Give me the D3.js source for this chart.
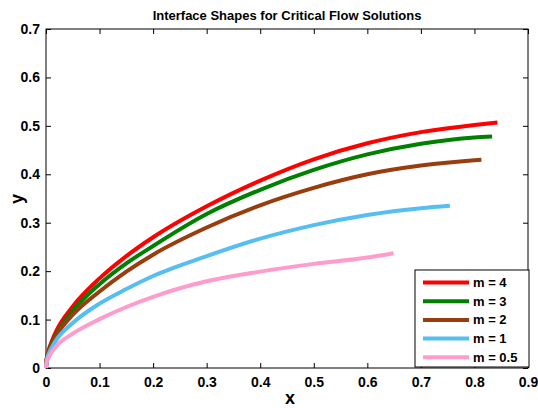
<!DOCTYPE html>
<html>
<head>
<meta charset="utf-8">
<script src="https://cdn.jsdelivr.net/npm/d3@7"></script>
<style>
  body { margin: 0; background: #fff; }
  text { font-family: "Liberation Sans", Arial, sans-serif; font-weight: bold; fill: #000; }
</style>
</head>
<body>
<section></section>
<script>
// values
var seriesNames = ["m = 4", "m = 3", "m = 2", "m = 1", "m = 0.5"];
var seriesColors = ["#ff0000", "#008000", "#993d0f", "#56bef0", "#ff9ccc"];

var redX   = [0, 0.001, 0.005, 0.01, 0.02, 0.05, 0.1, 0.15, 0.2, 0.3, 0.4, 0.5, 0.6, 0.7, 0.8, 0.843];
var redY   = [0, 0.017, 0.037, 0.053, 0.078, 0.127, 0.185, 0.231, 0.270, 0.334, 0.387, 0.431, 0.464, 0.487, 0.502, 0.507];
var greenX = [0, 0.001, 0.005, 0.01, 0.02, 0.05, 0.1, 0.15, 0.2, 0.3, 0.4, 0.5, 0.6, 0.7, 0.8, 0.833];
var greenY = [0, 0.016, 0.033, 0.049, 0.071, 0.118, 0.173, 0.216, 0.252, 0.318, 0.368, 0.409, 0.441, 0.463, 0.476, 0.478];
var brownX = [0, 0.001, 0.005, 0.01, 0.02, 0.05, 0.1, 0.15, 0.2, 0.3, 0.4, 0.5, 0.6, 0.7, 0.8, 0.813];
var brownY = [0, 0.015, 0.032, 0.047, 0.068, 0.110, 0.158, 0.199, 0.234, 0.290, 0.336, 0.372, 0.400, 0.418, 0.429, 0.430];
var blueX  = [0, 0.001, 0.005, 0.01, 0.02, 0.05, 0.1, 0.15, 0.2, 0.3, 0.4, 0.5, 0.6, 0.7, 0.754];
var blueY  = [0, 0.013, 0.029, 0.041, 0.059, 0.093, 0.133, 0.163, 0.190, 0.231, 0.267, 0.295, 0.316, 0.330, 0.335];
var pinkX  = [0, 0.001, 0.005, 0.01, 0.02, 0.05, 0.1, 0.15, 0.2, 0.3, 0.4, 0.5, 0.6, 0.649];
var pinkY  = [0, 0.010, 0.022, 0.032, 0.046, 0.071, 0.101, 0.126, 0.147, 0.179, 0.199, 0.215, 0.228, 0.237];

var xTicks = [0, 0.1, 0.2, 0.3, 0.4, 0.5, 0.6, 0.7, 0.8, 0.9];
var yTicks = [0, 0.1, 0.2, 0.3, 0.4, 0.5, 0.6, 0.7];

var allX = [redX, greenX, brownX, blueX, pinkX];
var allY = [redY, greenY, brownY, blueY, pinkY];

// plot box
var margin = {top: 29, right: 10, bottom: 40, left: 46},
  width = 538 - margin.left - margin.right,
  height = 408 - margin.top - margin.bottom;

var svg = d3.select("section").append("svg")
    .attr("width", 538)
    .attr("height", 408),
  g = svg.append("g")
    .attr("transform", "translate(" + margin.left + "," + margin.top + ")");

var x = d3.scaleLinear().domain([0, 0.9]).range([0, width]);
var y = d3.scaleLinear().domain([0, 0.7]).range([height, 0]);

// ticks pointing inward on all four sides
g.append("g")
  .attr("transform", "translate(0," + height + ")")
  .call(d3.axisBottom(x).tickValues(xTicks).tickSize(-5).tickPadding(9).tickFormat(d3.format("")));
g.append("g")
  .call(d3.axisLeft(y).tickValues(yTicks).tickSize(-5).tickPadding(6).tickFormat(d3.format("")));
g.append("g")
  .call(d3.axisTop(x).tickValues(xTicks).tickSize(-5).tickFormat(""));
g.append("g")
  .attr("transform", "translate(" + width + ",0)")
  .call(d3.axisRight(y).tickValues(yTicks).tickSize(-5).tickFormat(""));

g.selectAll(".domain").remove();
g.selectAll(".tick line").attr("stroke", "#000");
g.selectAll(".tick text").style("font-size", "14px").style("font-weight", "bold");

g.append("rect")
  .attr("width", width)
  .attr("height", height)
  .attr("fill", "none")
  .attr("stroke", "#000")
  .attr("stroke-width", 1);

// curves
var line = d3.line()
  .x(function(d) { return x(d[0]); })
  .y(function(d) { return y(d[1]); })
  .curve(d3.curveMonotoneX);

seriesNames.forEach(function(name, i) {
  var pts = allX[i].map(function(v, j) { return [v, allY[i][j]]; });
  g.append("path")
    .datum(pts)
    .attr("fill", "none")
    .attr("stroke", seriesColors[i])
    .attr("stroke-width", 4)
    .attr("d", line);
});

// legend
var legend = svg.append("g").attr("transform", "translate(415,270)");
legend.append("rect")
  .attr("width", 114)
  .attr("height", 97)
  .attr("fill", "#fff")
  .attr("stroke", "#000");

seriesNames.forEach(function(name, i) {
  var ly = 12.5 + i * 18.7;
  legend.append("line")
    .attr("x1", 8).attr("x2", 54)
    .attr("y1", ly).attr("y2", ly)
    .attr("stroke", seriesColors[i])
    .attr("stroke-width", 4);
  legend.append("text")
    .attr("x", 58)
    .attr("y", ly)
    .attr("dy", ".35em")
    .style("font-size", "13px")
    .text(name);
});

// titles
svg.append("text")
  .attr("x", margin.left + width / 2)
  .attr("y", 20)
  .attr("text-anchor", "middle")
  .style("font-size", "13px")
  .text("Interface Shapes for Critical Flow Solutions");

svg.append("text")
  .attr("x", margin.left + width / 2 + 3)
  .attr("y", 404)
  .attr("text-anchor", "middle")
  .style("font-size", "18px")
  .text("x");

svg.append("text")
  .attr("transform", "translate(23,199) rotate(-90)")
  .attr("text-anchor", "middle")
  .style("font-size", "18px")
  .text("y");
</script>
</body>
</html>
